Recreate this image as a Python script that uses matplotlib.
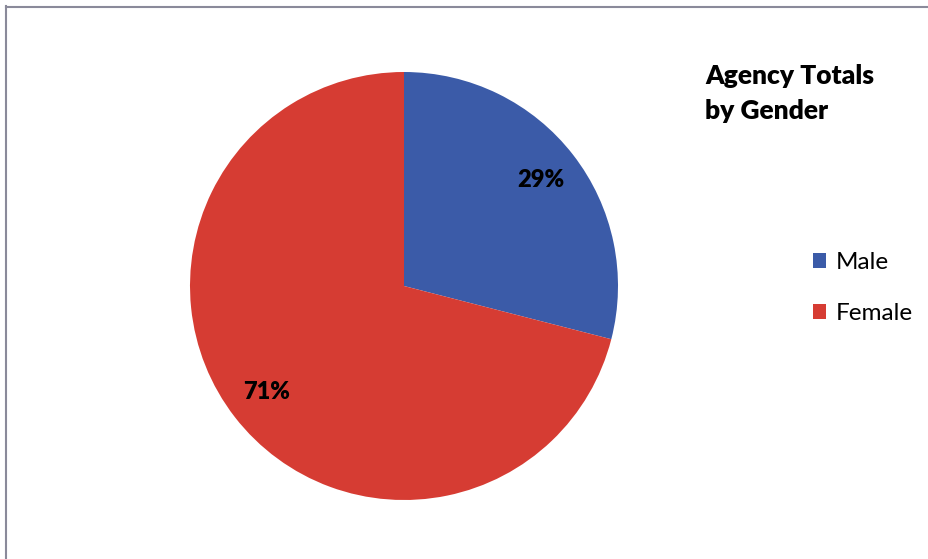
import matplotlib
matplotlib.use("Agg")
import matplotlib.pyplot as plt
from matplotlib.lines import Line2D
from matplotlib.patches import Patch

categories = ["Male", "Female"]
values = [29, 71]
colors = ["#3B5BA8", "#D63C33"]
title = "Agency Totals\nby Gender"

W, H = 929, 559
fig = plt.figure(figsize=(W / 100, H / 100), dpi=100)
fig.patch.set_facecolor("white")

font = ["Lato", "DejaVu Sans"]

# frame lines (top and left)
fig.add_artist(Line2D([6 / W, 1], [1 - 6.5 / H, 1 - 6.5 / H], color="#8a8a9a", lw=1.5))
fig.add_artist(Line2D([6.5 / W, 6.5 / W], [0, 1 - 6 / H], color="#8a8a9a", lw=1.5))

cx, cy, r = 404, 286, 214
ax = fig.add_axes([(cx - r) / W, (H - cy - r) / H, 2 * r / W, 2 * r / H])
wedges, texts, autotexts = ax.pie(
    values, colors=colors, startangle=90, counterclock=False,
    autopct=lambda p: f"{p:.0f}%", pctdistance=0.81, radius=1,
    wedgeprops=dict(linewidth=0),
    textprops=dict(fontsize=17, fontweight="heavy", family=font, color="black"),
)
ax.set_xlim(-1, 1)
ax.set_ylim(-1, 1)
ax.set_aspect("equal")
ax.axis("off")

fig.text(705 / W, 1 - 64 / H, title, ha="left", va="top", fontsize=19,
         fontweight="heavy", family=font, linespacing=1.55)

handles = [Patch(facecolor=c, edgecolor="none") for c in colors]
leg = fig.legend(handles, categories, loc="upper left",
                 bbox_to_anchor=(813 / W, 1 - 252 / H), frameon=False,
                 borderpad=0, borderaxespad=0,
                 prop=dict(family=font, size=17.5), handlelength=0.55,
                 handleheight=0.55, handletextpad=0.4, labelspacing=1.25)

fig.savefig("out.png", dpi=100, facecolor="white")
